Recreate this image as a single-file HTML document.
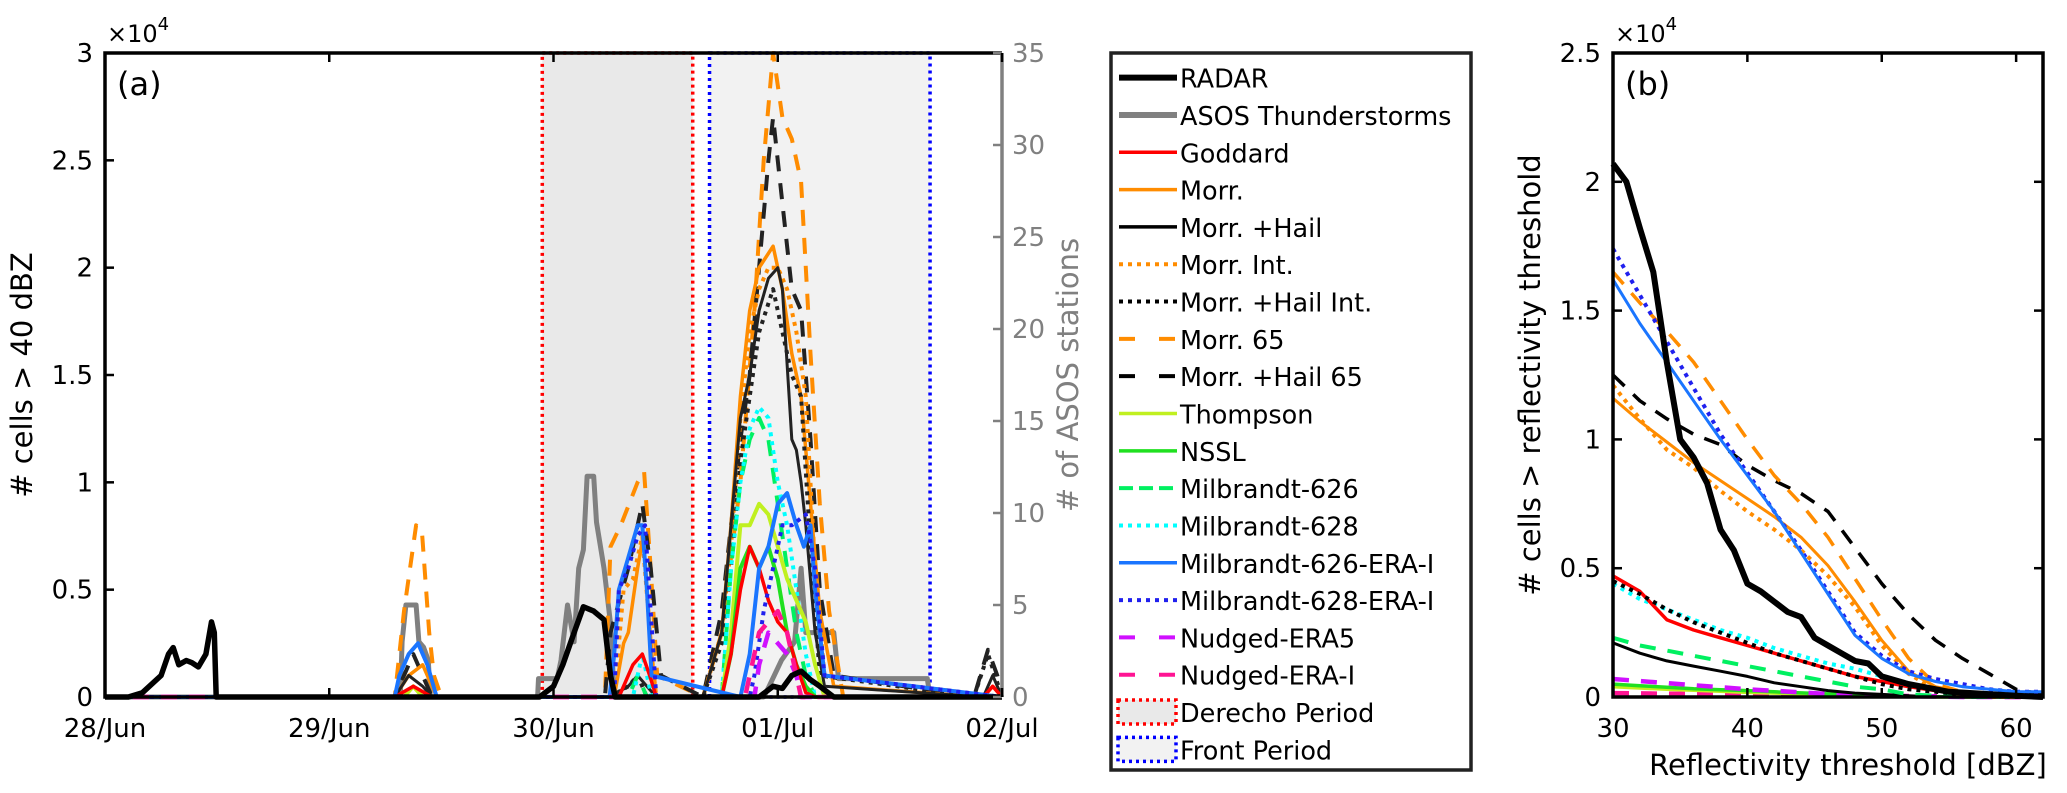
<!DOCTYPE html>
<html><head><meta charset="utf-8">
<style>
html,body{margin:0;padding:0;background:#fff;}
svg{display:block;font-family:"DejaVu Sans","Liberation Sans",sans-serif;}
</style></head>
<body>
<svg id="fig" width="2067" height="793" viewBox="0 0 2067 793" xmlns="http://www.w3.org/2000/svg">
</svg>
<script>
// ---------- Panel (a) data: hours since 28/Jun 00 UTC, values in 1e4 cells ----------
const dayLabels=["28/Jun","29/Jun","30/Jun","01/Jul","02/Jul"];
const leftTicks=[0,0.5,1,1.5,2,2.5,3];
const leftTickLabels=["0","0.5","1","1.5","2","2.5","3"];
const rightTicks=[0,5,10,15,20,25,30,35];
const derechoPeriod=[46.8,62.9];
const frontPeriod=[64.7,88.3];

const radarH=[0,2.5,4,6,6.8,7.3,7.9,8.7,9.3,10,10.8,11.4,11.7,11.9,46.5,48,49,50.2,51.2,52.3,53.4,54.1,54.6,70,71.5,72.5,73.5,74.5,75.5,76.5,78,96];
const radarV=[0,0,0.02,0.1,0.2,0.23,0.15,0.17,0.16,0.14,0.2,0.35,0.3,0,0,0.05,0.15,0.3,0.42,0.4,0.36,0.1,0,0,0.05,0.04,0.1,0.12,0.08,0.05,0,0];
const asosH=[0,31.6,31.8,32.2,33.3,33.6,34.1,34.6,34.8,46.3,46.4,48.4,48.8,49.5,50.2,50.7,51.2,51.6,52.3,52.6,53.4,54.1,54.5,70.5,71,72.4,73.8,74.5,75,78,78.5,88,88.3,96];
const asosV=[0,0,3,5,5,3,2.7,2,0,0,1,1,2,5,3,7,8,12,12,9.5,7,4,0,0,0.5,2,3,7,3.5,3.5,1,1,0,0];
const goddardH=[0,31,33,35,55,56.5,57.5,58.3,59,66,67,68,69,70,71,72,73,74,75,76,94,95,96];
const goddardV=[0,0,0.05,0,0,0.15,0.2,0.1,0,0,0.2,0.5,0.7,0.6,0.45,0.35,0.3,0.15,0.02,0,0,0.05,0];
const morrH=[0,31,32.5,34,35.5,54.5,55.5,56,57,57.6,58.5,59,64,66,67,68,69,70,71.5,72.5,73.5,74.5,75.5,76.5,78,94,95,96];
const morrV=[0,0,0.1,0.15,0,0,0.25,0.3,0.6,0.75,0.2,0,0,0.3,0.8,1.4,1.8,2.0,2.1,1.9,1.6,1.4,0.9,0.4,0.05,0,0.05,0];
const hailH=[0,31,32.5,34,35,54,56,57,58,59,64,66,67,68,69,70,71,72,72.5,73.5,74,74.5,75,76,77,94,95,96];
const hailV=[0,0,0.1,0.05,0,0,0.05,0.1,0.05,0,0,0.3,0.8,1.3,1.5,1.8,1.95,2.0,1.9,1.2,1.15,1.0,0.8,0.3,0.05,0,0.1,0];
const morrIntH=[0,54.5,55.5,56.5,57.5,58.5,59,64,66,67,68,69,70,71,72,73,74,75,76,77,96];
const morrIntV=[0,0,0.5,0.55,0.75,0.2,0,0,0.3,0.7,1.3,1.7,1.9,2.0,2.0,1.9,1.7,1.4,0.6,0.1,0];
const hailIntH=[0,54,56,57,58,64,66,67,68,69,70,71.5,73,73.5,74.5,75.5,76.5,93,94.5,96];
const hailIntV=[0,0,0.05,0.1,0,0,0.25,0.6,1.1,1.4,1.7,1.9,1.6,1.5,1.4,0.7,0.1,0,0.2,0];
const morr65H=[0,31,32,33.3,33.9,34.7,35.2,36,53.5,54.1,55.2,57,57.7,58.4,59.1,64,66,68,69.5,70.5,71.5,72.5,73.5,74.5,75.5,76.5,77.5,79,96];
const morr65V=[0,0,0.4,0.8,0.78,0.3,0.1,0,0,0.7,0.8,1.0,1.05,0.6,0.1,0,0.3,1.0,1.8,2.5,3.0,2.7,2.6,2.4,1.6,0.9,0.4,0,0];
const hail65H=[0,31,33,35,53.5,54.1,56,57,57.5,58.4,59.5,64,66,68,69,70,71,71.5,72.5,73.5,74.5,75.5,76.5,78,93,94.5,95.5,96];
const hail65V=[0,0,0.2,0,0,0.3,0.6,0.8,0.9,0.6,0.1,0,0.4,1.2,1.5,2.0,2.5,2.7,2.3,1.9,1.8,1.2,0.5,0.1,0,0.22,0.1,0];
const thompsonH=[0,32,33,34,66,67,68,69,70,71,72,73,74,75,76,77,96];
const thompsonV=[0,0,0.05,0,0,0.3,0.8,0.8,0.9,0.85,0.7,0.55,0.45,0.35,0.15,0,0];
const nsslH=[0,66,67,68,69,70,71,72,73,74,75,76,96];
const nsslV=[0,0,0.2,0.6,0.7,0.6,0.7,0.55,0.3,0.15,0.05,0,0];
const mil626H=[0,56,57,58,66,67,68,69,70,71,72,73,74,75,76,96];
const mil626V=[0,0,0.1,0,0,0.6,1.0,1.2,1.3,1.2,0.9,0.6,0.3,0.1,0,0];
const mil628H=[0,56.5,57.5,58.5,66,67,68,69,70,71,72,73,74,75,76,96];
const mil628V=[0,0,0.2,0,0,0.6,1.0,1.25,1.35,1.3,1.0,0.8,0.5,0.2,0,0];
const mil626EH=[0,31,31.5,32.5,33.5,34.5,35.5,54,54.5,55,56,57,57.5,58,58.5,68,69,70,71,72,73,74,74.8,75.5,76,77,96];
const mil626EV=[0,0,0.1,0.2,0.25,0.15,0,0,0.2,0.5,0.65,0.8,0.8,0.5,0.1,0,0.2,0.6,0.7,0.9,0.95,0.8,0.7,0.8,0.5,0.1,0];
const mil628EH=[0,54.5,55,56,57,57.8,58.7,59,69,69.5,70.5,71.5,72.5,73.5,75,76,77,96];
const mil628EV=[0,0,0.5,0.6,0.75,0.8,0.2,0,0,0.1,0.4,0.6,0.8,0.8,0.85,0.6,0.1,0];
const era5H=[0,69.5,70,71,72,73,74,74.5,96];
const era5V=[0,0,0.15,0.3,0.25,0.2,0.1,0,0];
const eraIH=[0,68.5,69,70,71,72,73,74,74.5,96];
const eraIV=[0,0,0.1,0.3,0.35,0.4,0.3,0.1,0,0];

// ---------- Panel (b) data ----------
const bTicksX=[30,40,50,60];
const bTicksY=[0,0.5,1,1.5,2,2.5];
const bTickLabelsY=["0","0.5","1","1.5","2","2.5"];
const bRadarX=[30,31,32,33,34,35,36,37,38,39,40,41,42,43,44,45,46,47,48,49,50,52,55,60,62];
const bRadarY=[2.07,2.0,1.82,1.65,1.3,1.0,0.93,0.83,0.65,0.57,0.44,0.41,0.37,0.33,0.31,0.23,0.2,0.17,0.14,0.13,0.08,0.05,0.02,0.005,0];
const bX=[30,32,34,36,38,40,42,44,46,48,50,52,54,56,58,60,62];
const bMil626E=[1.62,1.45,1.3,1.15,1.0,0.86,0.72,0.56,0.4,0.24,0.15,0.09,0.06,0.04,0.03,0.02,0.02];
const bMil628E=[1.74,1.56,1.38,1.2,1.02,0.87,0.72,0.57,0.41,0.25,0.16,0.1,0.07,0.05,0.03,0.02,0.02];
const bMorr65=[1.65,1.53,1.42,1.3,1.15,1.0,0.86,0.75,0.62,0.46,0.3,0.15,0.05,0.02,0.01,0,0];
const bHail65=[1.25,1.15,1.08,1.02,0.98,0.9,0.84,0.79,0.72,0.58,0.44,0.32,0.22,0.15,0.09,0.03,0.01];
const bMorr=[1.16,1.07,0.99,0.91,0.84,0.77,0.7,0.62,0.51,0.37,0.22,0.1,0.04,0.02,0.01,0,0];
const bMorrInt=[1.21,1.08,0.96,0.89,0.8,0.72,0.65,0.57,0.47,0.35,0.2,0.09,0.03,0.01,0,0,0];
const bGoddard=[0.47,0.41,0.3,0.26,0.23,0.2,0.17,0.14,0.11,0.08,0.06,0.04,0.025,0.015,0.01,0.005,0];
const bHailInt=[0.45,0.4,0.34,0.29,0.25,0.21,0.17,0.14,0.11,0.08,0.05,0.03,0.02,0.01,0.005,0,0];
const bMil628=[0.44,0.38,0.34,0.3,0.26,0.23,0.19,0.16,0.13,0.11,0.08,0.05,0.03,0.02,0.01,0.005,0];
const bMil626=[0.23,0.2,0.18,0.16,0.14,0.12,0.1,0.08,0.06,0.04,0.03,0.01,0.005,0,0,0,0];
const bHail=[0.21,0.17,0.14,0.12,0.1,0.08,0.055,0.04,0.025,0.015,0.01,0.005,0,0,0,0,0];
const bEra5=[0.07,0.062,0.054,0.046,0.038,0.03,0.024,0.018,0.012,0.008,0.005,0.003,0.002,0,0,0,0];
const bNssl=[0.05,0.044,0.038,0.032,0.028,0.025,0.02,0.016,0.012,0.008,0.005,0.003,0.001,0,0,0,0];
const bThompson=[0.04,0.035,0.03,0.026,0.022,0.018,0.015,0.012,0.009,0.006,0.004,0.002,0,0,0,0,0];
const bEraI=[0.015,0.014,0.013,0.012,0.011,0.01,0.009,0.008,0.007,0.006,0.005,0.004,0.003,0.002,0.001,0,0];

const NS="http://www.w3.org/2000/svg";
const svg=document.getElementById('fig');
function mk(tag,attrs,parent){const e=document.createElementNS(NS,tag);for(const k in attrs)e.setAttribute(k,attrs[k]);(parent||svg).appendChild(e);return e;}

const A={l:105,r:1002,t:53,b:697};
const B={l:1613,r:2043,t:53,b:697};
function ax(h){return A.l+h*(A.r-A.l)/96;}
function ay(v){return A.b-v*(A.b-A.t)/3;}
function ayR(s){return A.b-s*(A.b-A.t)/35;}
function bx(d){return B.l+(d-30)*(B.r-B.l)/32;}
function by(v){return B.b-v*(B.b-A.t)/2.5;}

const C={black:"#000",gray:"#808080",red:"#ff0000",orange:"#ff8c00",lime:"#c0f020",green:"#20e020",mgreen:"#00f060",cyan:"#00ffff",blue:"#1a75ff",dblue:"#2020ee",mag:"#d010ff",pink:"#ff1493"};
const ST={solid:"",dash:"16 12",dot:"4 5"};
const TF=26;

// ---------- Panel (a) ----------
const gA=mk('g',{});


const dR=mk('rect',{x:ax(derechoPeriod[0]),y:A.t,width:ax(derechoPeriod[1])-ax(derechoPeriod[0]),height:A.b-A.t,fill:"#e9e9e9",stroke:"#ff0000","stroke-width":3.5,"stroke-dasharray":"3 4"},gA);


const fR=mk('rect',{x:ax(frontPeriod[0]),y:A.t,width:ax(frontPeriod[1])-ax(frontPeriod[0]),height:A.b-A.t,fill:"#f2f2f2",stroke:"#0000ff","stroke-width":3.5,"stroke-dasharray":"3 4"},gA);



function lineA(H,V,color,dash,w,name,right){
  const pts=H.map((h,i)=>ax(h).toFixed(1)+","+(right?ayR(V[i]):ay(V[i])).toFixed(1)).join(" ");
  const p=mk('polyline',{points:pts,fill:"none",stroke:color,"stroke-width":w,"stroke-dasharray":dash,"stroke-linejoin":"round"},gA);
  
  
}
lineA(asosH,asosV,C.gray,ST.solid,5,'asos-line',true);
lineA(morr65H,morr65V,C.orange,ST.dash,4,'morr-65-line');
lineA(hail65H,hail65V,"#222",ST.dash,4,'morr-hail-65-line');
lineA(morrH,morrV,C.orange,ST.solid,3.5,'morr-line');
lineA(morrIntH,morrIntV,C.orange,ST.dot,4,'morr-int-line');
lineA(hailH,hailV,"#222",ST.solid,3,'morr-hail-line');
lineA(hailIntH,hailIntV,"#222",ST.dot,4,'morr-hail-int-line');
lineA(mil626H,mil626V,C.mgreen,ST.dash,4,'milbrandt-626-line');
lineA(mil628H,mil628V,C.cyan,ST.dot,4,'milbrandt-628-line');
lineA(thompsonH,thompsonV,C.lime,ST.solid,4,'thompson-line');
lineA(nsslH,nsslV,C.green,ST.solid,4,'nssl-line');
lineA(goddardH,goddardV,C.red,ST.solid,3.5,'goddard-line');
lineA(mil626EH,mil626EV,C.blue,ST.solid,4,'milbrandt-626-era-i-line');
lineA(mil628EH,mil628EV,C.dblue,ST.dot,4,'milbrandt-628-era-i-line');
lineA(era5H,era5V,C.mag,ST.dash,4.5,'nudged-era5-line');
lineA(eraIH,eraIV,C.pink,ST.dash,4.5,'nudged-era-i-line');
lineA(radarH,radarV,"#000",ST.solid,5.5,'radar-line');

const boxA=mk('path',{d:`M${A.r},${A.t} H${A.l} V${A.b} H${A.r}`,fill:"none",stroke:"#000","stroke-width":3.5},gA);


const rAx=mk('line',{x1:A.r,y1:A.t,x2:A.r,y2:A.b,stroke:"#808080","stroke-width":3.5},gA);


leftTicks.forEach((v,i)=>{
  mk('line',{x1:A.l,y1:ay(v),x2:A.l+9,y2:ay(v),stroke:"#000","stroke-width":2.5},gA);
  const t=mk('text',{x:A.l-12,y:ay(v)+9,"text-anchor":"end","font-size":TF},gA);
  t.textContent=leftTickLabels[i];
  
  
});
rightTicks.forEach(s=>{
  mk('line',{x1:A.r,y1:ayR(s),x2:A.r-9,y2:ayR(s),stroke:"#808080","stroke-width":2.5},gA);
  const t=mk('text',{x:A.r+10,y:ayR(s)+9,"font-size":TF,fill:"#808080"},gA);
  t.textContent=String(s);
  
  
});
dayLabels.forEach((d,i)=>{
  const x=ax(i*24);
  mk('line',{x1:x,y1:A.b,x2:x,y2:A.b-9,stroke:"#000","stroke-width":2.5},gA);
  mk('line',{x1:x,y1:A.t,x2:x,y2:A.t+9,stroke:"#000","stroke-width":2.5},gA);
  const t=mk('text',{x:x,y:737,"text-anchor":"middle","font-size":TF},gA);
  t.textContent=d;
  
  
});
let t;
t=mk('text',{x:107,y:42,"font-size":24},gA);t.innerHTML='×10<tspan dy="-12" font-size="18">4</tspan>';


t=mk('text',{x:117,y:95,"font-size":32},gA);t.textContent='(a)';


t=mk('text',{x:0,y:0,"font-size":29,"text-anchor":"middle",transform:`translate(32,${(A.t+A.b)/2}) rotate(-90)`},gA);t.textContent='# cells > 40 dBZ';


t=mk('text',{x:0,y:0,"font-size":29,fill:"#808080","text-anchor":"middle",transform:`translate(1078,${(A.t+A.b)/2}) rotate(-90)`},gA);t.textContent='# of ASOS stations';



// ---------- Legend ----------
const legNames=["RADAR","ASOS Thunderstorms","Goddard","Morr.","Morr. +Hail","Morr. Int.","Morr. +Hail Int.","Morr. 65","Morr. +Hail 65","Thompson","NSSL","Milbrandt-626","Milbrandt-628","Milbrandt-626-ERA-I","Milbrandt-628-ERA-I","Nudged-ERA5","Nudged-ERA-I","Derecho Period","Front Period"];
const legColors=["#000","#808080",C.red,C.orange,"#000",C.orange,"#000",C.orange,"#000",C.lime,C.green,C.mgreen,C.cyan,C.blue,C.dblue,C.mag,C.pink,"#f00","#00f"];
const legDash=["","","","","","4 5","4 5","16 24","16 24","","","14 6","4 5","","4 5","16 24","16 24","",""];
const legW=[6,6,3.5,3.5,3.5,4,4,4,4,3.5,3.5,4,4,3.5,4,4,4,3,3];
const gL=mk('g',{});


const LX=1111,LT=53,LB=770,rowH=(LB-LT-8)/19;
mk('rect',{x:LX,y:LT,width:360,height:LB-LT,fill:"#fff",stroke:"#222","stroke-width":3.5},gL);
legNames.forEach((n,i)=>{
  const cy=LT+6+rowH*(i+0.5);
  const g=mk('g',{},gL);
  
  
  if(i>=17){
    mk('rect',{x:LX+7,y:cy-12,width:58,height:24,fill:i==17?"#e9e9e9":"#f2f2f2",stroke:legColors[i],"stroke-width":3.5,"stroke-dasharray":"3 4"},g);
  } else {
    mk('line',{x1:LX+8,y1:cy,x2:LX+66,y2:cy,stroke:legColors[i],"stroke-width":legW[i],"stroke-dasharray":legDash[i]},g);
  }
  const tx=mk('text',{x:LX+69,y:cy+10,"font-size":25.5},g);
  tx.textContent=n;
});

// ---------- Panel (b) ----------
const gB=mk('g',{});


function lineB(X,Y,color,dash,w,name){
  const pts=X.map((x,i)=>bx(x).toFixed(1)+","+by(Y[i]).toFixed(1)).join(" ");
  const p=mk('polyline',{points:pts,fill:"none",stroke:color,"stroke-width":w,"stroke-dasharray":dash,"stroke-linejoin":"round"},gB);
  
  
}
lineB(bX,bEraI,C.pink,ST.dash,4.5,'b-nudged-era-i-line');
lineB(bX,bThompson,C.lime,ST.solid,3.5,'b-thompson-line');
lineB(bX,bNssl,C.green,ST.solid,3.5,'b-nssl-line');
lineB(bX,bEra5,C.mag,ST.dash,4.5,'b-nudged-era5-line');
lineB(bX,bHail,"#000",ST.solid,3,'b-morr-hail-line');
lineB(bX,bMil626,C.mgreen,ST.dash,4,'b-milbrandt-626-line');
lineB(bX,bMil628,C.cyan,ST.dot,4,'b-milbrandt-628-line');
lineB(bX,bGoddard,C.red,ST.solid,3.5,'b-goddard-line');
lineB(bX,bHailInt,"#000",ST.dot,4,'b-morr-hail-int-line');
lineB(bX,bHail65,"#000",ST.dash,3.5,'b-morr-hail-65-line');
lineB(bX,bMorr65,C.orange,ST.dash,3.5,'b-morr-65-line');
lineB(bX,bMorrInt,C.orange,ST.dot,4,'b-morr-int-line');
lineB(bX,bMorr,C.orange,ST.solid,3,'b-morr-line');
lineB(bX,bMil628E,C.dblue,ST.dot,4,'b-milbrandt-628-era-i-line');
lineB(bX,bMil626E,C.blue,ST.solid,3,'b-milbrandt-626-era-i-line');
lineB(bRadarX,bRadarY,"#000",ST.solid,6,'b-radar-line');
const boxB=mk('rect',{x:B.l,y:B.t,width:B.r-B.l,height:B.b-B.t,fill:"none",stroke:"#000","stroke-width":3.5},gB);


bTicksX.forEach(d=>{
  mk('line',{x1:bx(d),y1:B.b,x2:bx(d),y2:B.b-9,stroke:"#000","stroke-width":2.5},gB);
  mk('line',{x1:bx(d),y1:B.t,x2:bx(d),y2:B.t+9,stroke:"#000","stroke-width":2.5},gB);
  const tt=mk('text',{x:bx(d),y:737,"text-anchor":"middle","font-size":TF},gB);
  tt.textContent=String(d);
  
  
});
bTicksY.forEach((v,i)=>{
  mk('line',{x1:B.l,y1:by(v),x2:B.l+9,y2:by(v),stroke:"#000","stroke-width":2.5},gB);
  mk('line',{x1:B.r,y1:by(v),x2:B.r-9,y2:by(v),stroke:"#000","stroke-width":2.5},gB);
  const tt=mk('text',{x:B.l-12,y:by(v)+9,"text-anchor":"end","font-size":TF},gB);
  tt.textContent=bTickLabelsY[i];
  
  
});
t=mk('text',{x:1615,y:42,"font-size":24},gB);t.innerHTML='×10<tspan dy="-12" font-size="18">4</tspan>';


t=mk('text',{x:1625,y:95,"font-size":32},gB);t.textContent='(b)';


t=mk('text',{x:(B.l+B.r)/2+20,y:775,"text-anchor":"middle","font-size":29},gB);t.textContent='Reflectivity threshold [dBZ]';


t=mk('text',{x:0,y:0,"font-size":29,"text-anchor":"middle",transform:`translate(1540,${(B.t+B.b)/2}) rotate(-90)`},gB);t.textContent='# cells > reflectivity threshold';


</script>
</body></html>
